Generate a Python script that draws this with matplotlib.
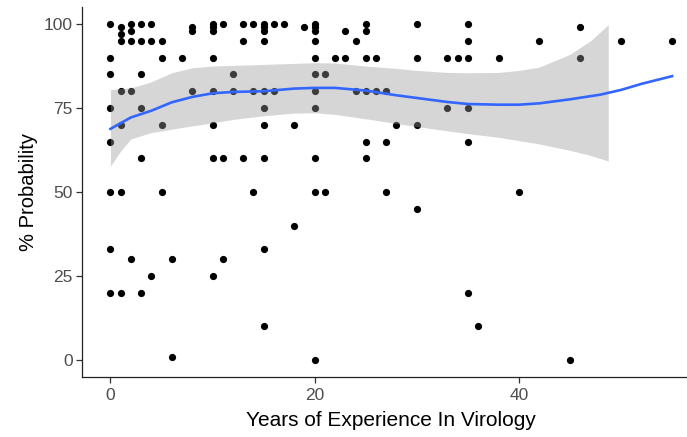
import matplotlib.pyplot as plt

plt.rcParams['font.family'] = ['Liberation Sans', 'DejaVu Sans']

# scatter data: years of experience vs % probability
years = [0, 0, 0, 0, 0, 0, 0, 0,
         1, 1, 1, 1, 1, 1, 1,
         2, 2, 2, 2, 2,
         3, 3, 3, 3, 3, 3,
         4, 4, 4,
         5, 5, 5, 5,
         6, 6, 7, 8, 8, 8,
         10, 10, 10, 10, 10, 10, 10, 10,
         11, 11, 11, 12, 12, 13, 13, 13, 14, 14, 14,
         15, 15, 15, 15, 15, 15, 15, 15, 15, 15,
         16, 16, 17, 18, 18, 19,
         20, 20, 20, 20, 20, 20, 20, 20, 20, 20, 20,
         21, 21, 22, 23, 23, 24, 24,
         25, 25, 25, 25, 25, 25, 26, 26, 27, 27, 27, 28,
         30, 30, 30, 30, 33, 33, 34,
         35, 35, 35, 35, 35, 35, 36, 38, 40, 42, 45, 46, 46, 50, 55]
prob = [100, 90, 85, 75, 65, 50, 33, 20,
        99, 97, 95, 80, 70, 50, 20,
        100, 98, 95, 80, 30,
        100, 95, 85, 75, 60, 20,
        100, 95, 25,
        95, 90, 70, 50,
        30, 1, 90, 99, 98, 80,
        100, 99, 98, 90, 80, 70, 60, 25,
        100, 60, 30, 85, 80, 100, 95, 60, 100, 80, 50,
        100, 99, 98, 95, 80, 75, 70, 60, 33, 10,
        100, 80, 100, 70, 40, 99,
        100, 99, 98, 95, 90, 85, 80, 75, 60, 50, 0,
        85, 50, 90, 98, 90, 95, 80,
        100, 98, 90, 80, 65, 60, 90, 80, 80, 65, 50, 70,
        100, 90, 70, 45, 90, 75, 90,
        100, 95, 90, 75, 65, 20, 10, 90, 50, 95, 0, 99, 90, 95, 95]

# smoothed (loess) fit
fit_x = [0, 2, 4, 6, 8, 10, 12, 15, 18, 20, 22, 25, 28, 30, 33, 35, 38, 40,
         42, 45, 48, 50, 52, 55]
fit_y = [68.8, 72.2, 74.2, 76.7, 78.3, 79.4, 79.8, 80.0, 80.8, 81.0, 81.0, 80.2,
         78.8, 78.0, 76.8, 76.2, 76.0, 76.0, 76.4, 77.6, 79.0, 80.4, 82.2, 84.5]

# confidence band (stops where it leaves the scale)
band_x = [0, 1, 2, 4, 6, 8, 10, 12, 15, 18, 20, 22, 25, 28, 30, 33, 35, 38, 40,
          42, 45, 47, 48.75]
band_lo = [57.7, 62.2, 65.8, 67.7, 68.7, 69.7, 70.6, 71.6, 72.7, 73.5, 73.6, 73.1,
           71.8, 70.4, 69.5, 68.2, 67.4, 66.3, 65.3, 64.3, 62.4, 60.9, 59.2]
band_hi = [80.5, 80.8, 81.0, 82.8, 85.5, 87.0, 87.5, 87.7, 88.0, 88.3, 88.5, 88.4,
           87.5, 86.8, 86.2, 85.6, 85.5, 85.6, 86.2, 87.2, 91.0, 95.0, 99.8]

fig = plt.figure(figsize=(6.87, 4.37), dpi=100)
ax = fig.add_axes([0.1199, 0.138, 0.8993, 0.8453])

ax.scatter(years, prob, s=27, color='black', linewidths=0, zorder=2)
ax.fill_between(band_x, band_lo, band_hi, color='#999999', alpha=0.4,
                linewidth=0, zorder=3)
ax.plot(fit_x, fit_y, color='#3366FF', lw=1.9, zorder=4)

ax.set_xlim(-2.75, 57.75)
ax.set_ylim(-5, 105)
ax.set_xticks([0, 20, 40])
ax.set_yticks([0, 25, 50, 75, 100])

for side in ['top', 'right']:
    ax.spines[side].set_visible(False)
for side in ['left', 'bottom']:
    ax.spines[side].set_linewidth(0.9)
    ax.spines[side].set_color('#222222')

ax.tick_params(axis='both', length=4, width=0.9, color='#333333',
               labelsize=12.5, labelcolor='#4D4D4D')
ax.tick_params(axis='x', pad=4)
ax.tick_params(axis='y', pad=3)

ax.set_xlabel('Years of Experience In Virology', fontsize=15, color='black',
              labelpad=6)
ax.set_ylabel('% Probability', fontsize=14.5, color='black', labelpad=4)

fig.savefig('out.png', dpi=100)
